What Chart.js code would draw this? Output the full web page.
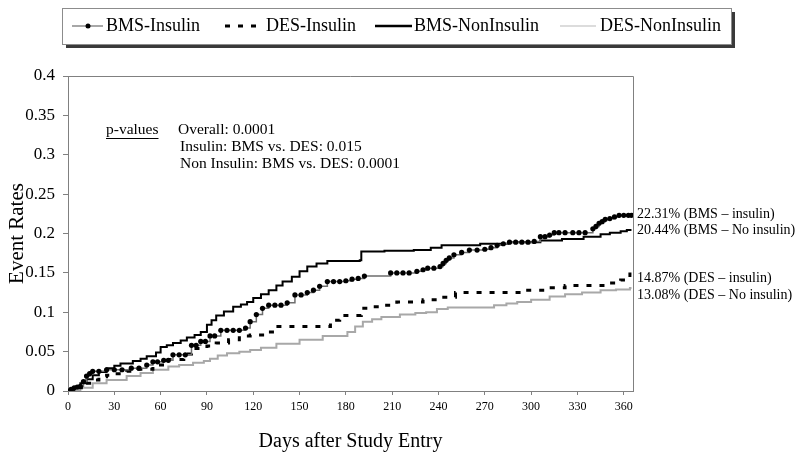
<!DOCTYPE html>
<html><head><meta charset="utf-8">
<script src="https://cdn.jsdelivr.net/npm/chart.js@4/dist/chart.umd.min.js"></script>
<style>html,body{margin:0;padding:0;background:#fff}#wrap{width:800px;height:461px;position:relative}</style>
</head><body><div id="wrap"><canvas id="c" width="800" height="461"></canvas></div>
<script>
const seriesNames = ['BMS-Insulin', 'DES-Insulin', 'BMS-NonInsulin', 'DES-NonInsulin'];

const bmsInsDays  = [0,2,4,6,8,10,12,14,16,20,25,30,35,41,46,51,55,58,62,65,68,72,76,80,83,86,89,92,95,99,103,107,111,115,118,122,126,130,134,138,142,147,151,155,159,163,168,172,176,180,184,188,192,209,213,217,221,226,230,233,237,241,243,245,247,250,255,260,265,270,274,278,282,286,290,294,298,302,306,309,312,315,318,322,327,331,335,340,342,344,346,348,351,354,357,360,363,365];
const bmsInsRates = [0,0.002,0.004,0.005,0.006,0.012,0.019,0.022,0.025,0.025,0.027,0.027,0.027,0.029,0.029,0.033,0.037,0.037,0.039,0.039,0.046,0.046,0.046,0.058,0.058,0.063,0.063,0.070,0.070,0.077,0.077,0.077,0.077,0.080,0.088,0.097,0.105,0.109,0.109,0.109,0.112,0.122,0.122,0.125,0.128,0.133,0.139,0.139,0.139,0.140,0.142,0.143,0.146,0.150,0.150,0.150,0.150,0.152,0.154,0.156,0.156,0.158,0.162,0.166,0.169,0.173,0.176,0.179,0.179,0.180,0.182,0.185,0.187,0.189,0.189,0.189,0.189,0.190,0.196,0.196,0.198,0.201,0.201,0.201,0.201,0.201,0.201,0.206,0.209,0.213,0.215,0.218,0.219,0.221,0.2231,0.2231,0.2231,0.2231];

const desInsDays  = [0,5,10,15,20,25,30,38,45,55,65,75,80,90,96,104,111,118,128,135,170,176,190,194,203,213,230,240,251,295,313,322,349,358,364,365];
const desInsRates = [0,0.004,0.010,0.014,0.018,0.020,0.022,0.025,0.0275,0.033,0.040,0.047,0.054,0.057,0.061,0.065,0.070,0.071,0.075,0.082,0.090,0.096,0.105,0.107,0.109,0.113,0.116,0.119,0.125,0.128,0.131,0.134,0.137,0.141,0.1487,0.1487];

const bmsNonDays  = [0,4,8,12,16,20,25,30,34,42,47,51,57,60,64,68,73,77,82,86,90,93,96,101,107,112,116,120,125,130,135,139,145,150,155,161,168,189,190,205,224,235,242,267,285,306,320,334,345,351,358,362,365];
const bmsNonRates = [0,0.005,0.010,0.015,0.020,0.024,0.029,0.032,0.035,0.038,0.041,0.044,0.049,0.056,0.058,0.061,0.064,0.068,0.071,0.075,0.084,0.090,0.096,0.101,0.107,0.110,0.113,0.118,0.123,0.128,0.134,0.139,0.145,0.152,0.158,0.162,0.165,0.166,0.177,0.178,0.179,0.182,0.185,0.187,0.189,0.191,0.193,0.196,0.199,0.201,0.203,0.2044,0.2044];

const desNonDays  = [0,8,16,25,38,47,55,65,72,81,88,92,97,103,111,118,125,135,150,165,181,186,191,197,203,215,225,232,239,246,270,276,284,291,300,312,322,333,345,355,364,365];
const desNonRates = [0,0.004,0.010,0.014,0.019,0.023,0.027,0.031,0.033,0.036,0.038,0.041,0.045,0.048,0.050,0.052,0.055,0.060,0.065,0.070,0.075,0.082,0.088,0.091,0.094,0.097,0.099,0.100,0.104,0.106,0.106,0.109,0.111,0.113,0.116,0.120,0.123,0.125,0.128,0.129,0.1308,0.1308];

const xTickValues = [0,30,60,90,120,150,180,210,240,270,300,330,360];
const yTickLabels = ['0','0.05','0.1','0.15','0.2','0.25','0.3','0.35','0.4'];
const endLabels = ['22.31% (BMS \u2013 insulin)', '20.44% (BMS \u2013 No insulin)', '14.87% (DES \u2013 insulin)', '13.08% (DES \u2013 No insulin)'];
const pValueTitle = 'p-values';
const pValueLines = ['Overall: 0.0001', 'Insulin: BMS vs. DES: 0.015', 'Non Insulin: BMS vs. DES: 0.0001'];
const xTitle = 'Days after Study Entry';
const yTitle = 'Event Rates';

const FONT = "'Liberation Serif', 'Times New Roman', serif";
const toPts = (d, r) => d.map((x, i) => ({x: x, y: r[i]}));

const overlay = {
  id: 'overlay',
  afterDraw(chart) {
    const ctx = chart.ctx, a = chart.chartArea;
    ctx.save();
    ctx.strokeStyle = '#808080'; ctx.lineWidth = 1;
    ctx.beginPath();
    ctx.moveTo(Math.round(a.left), Math.round(a.top) + 0.5);
    ctx.lineTo(Math.round(a.right) + 0.5, Math.round(a.top) + 0.5);
    ctx.lineTo(Math.round(a.right) + 0.5, Math.round(a.bottom));
    ctx.stroke();

    const lx = 62, ly = 8, lw = 669, lh = 36;
    ctx.fillStyle = '#3a3a3a';
    ctx.fillRect(lx + 4, ly + 4, lw, lh);
    ctx.fillStyle = '#ffffff';
    ctx.fillRect(lx, ly, lw, lh);
    ctx.strokeStyle = '#8c8c8c';
    ctx.strokeRect(lx + 0.5, ly + 0.5, lw, lh);

    const yc = 26;
    ctx.strokeStyle = '#8a8a8a'; ctx.lineWidth = 1.5;
    ctx.beginPath(); ctx.moveTo(72, yc); ctx.lineTo(103, yc); ctx.stroke();
    ctx.fillStyle = '#000'; ctx.beginPath(); ctx.arc(88, yc, 2.5, 0, Math.PI * 2); ctx.fill();
    ctx.strokeStyle = '#000'; ctx.lineWidth = 3; ctx.setLineDash([5, 8]);
    ctx.beginPath(); ctx.moveTo(225, yc); ctx.lineTo(262, yc); ctx.stroke();
    ctx.setLineDash([]);
    ctx.lineWidth = 2.5;
    ctx.beginPath(); ctx.moveTo(375, yc); ctx.lineTo(412, yc); ctx.stroke();
    ctx.strokeStyle = '#d0d0d0'; ctx.lineWidth = 1.5;
    ctx.beginPath(); ctx.moveTo(560, yc); ctx.lineTo(596, yc); ctx.stroke();

    ctx.fillStyle = '#000';
    ctx.font = '18px ' + FONT;
    ctx.textBaseline = 'middle'; ctx.textAlign = 'left';
    ctx.fillText(seriesNames[0], 106, yc);
    ctx.fillText(seriesNames[1], 266, yc);
    ctx.fillText(seriesNames[2], 414, yc);
    ctx.fillText(seriesNames[3], 600, yc);

    ctx.font = '15.5px ' + FONT;
    ctx.fillText(pValueTitle, 106, 130);
    const w = ctx.measureText(pValueTitle).width;
    ctx.strokeStyle = '#000'; ctx.lineWidth = 1;
    ctx.beginPath(); ctx.moveTo(106, 138.5); ctx.lineTo(106 + w, 138.5); ctx.stroke();
    ctx.fillText(pValueLines[0], 178, 130);
    ctx.fillText(pValueLines[1], 180, 147);
    ctx.fillText(pValueLines[2], 180, 164);

    ctx.font = '14px ' + FONT;
    const ys = [214, 230, 278, 295];
    endLabels.forEach((t, i) => ctx.fillText(t, a.right + 4, ys[i]));
    ctx.restore();
  }
};

new Chart(document.getElementById('c'), {
  type: 'line',
  data: {
    datasets: [
      { label: seriesNames[0], data: toPts(bmsInsDays, bmsInsRates), stepped: 'before',
        borderColor: '#6e6e6e', borderWidth: 1.5, pointRadius: 2.6, pointBackgroundColor: '#000', pointBorderColor: '#000', pointBorderWidth: 0 },
      { label: seriesNames[1], data: toPts(desInsDays, desInsRates), stepped: 'before',
        borderColor: '#000', borderWidth: 3, borderDash: [5, 8], pointRadius: 0 },
      { label: seriesNames[2], data: toPts(bmsNonDays, bmsNonRates), stepped: 'before',
        borderColor: '#000', borderWidth: 2, pointRadius: 0 },
      { label: seriesNames[3], data: toPts(desNonDays, desNonRates), stepped: 'before',
        borderColor: '#a8a8a8', borderWidth: 2, pointRadius: 0 }
    ]
  },
  options: {
    responsive: false, animation: false, devicePixelRatio: 1,
    layout: { padding: { left: 0, right: 167, top: 76, bottom: 0 } },
    plugins: { legend: { display: false }, tooltip: { enabled: false } },
    scales: {
      x: {
        type: 'linear', min: 0, max: 366,
        afterFit: s => { s.height = 70; },
        afterBuildTicks: s => { s.ticks = xTickValues.map(v => ({ value: v })); },
        border: { color: '#808080', width: 1 },
        grid: { drawOnChartArea: false, drawTicks: true, tickLength: 4, color: '#808080' },
        ticks: { font: { family: FONT, size: 12 }, color: '#000', padding: 5, maxRotation: 0, autoSkip: false },
        title: { display: true, text: xTitle, font: { family: FONT, size: 20 }, color: '#000', padding: { top: 0, bottom: 7 } }
      },
      y: {
        min: 0, max: 0.4,
        afterFit: s => { s.width = 68; },
        afterBuildTicks: s => { s.ticks = yTickLabels.map(t => ({ value: parseFloat(t) })); },
        border: { color: '#808080', width: 1 },
        grid: { drawOnChartArea: false, drawTicks: true, tickLength: 5, color: '#808080' },
        ticks: { font: { family: FONT, size: 17 }, color: '#000', padding: 8,
                 callback: (v, i) => yTickLabels[i] },
        title: { display: true, text: yTitle, font: { family: FONT, size: 21 }, color: '#000', padding: { top: 5, bottom: 0 } }
      }
    }
  },
  plugins: [overlay]
});
</script>
</body></html>
